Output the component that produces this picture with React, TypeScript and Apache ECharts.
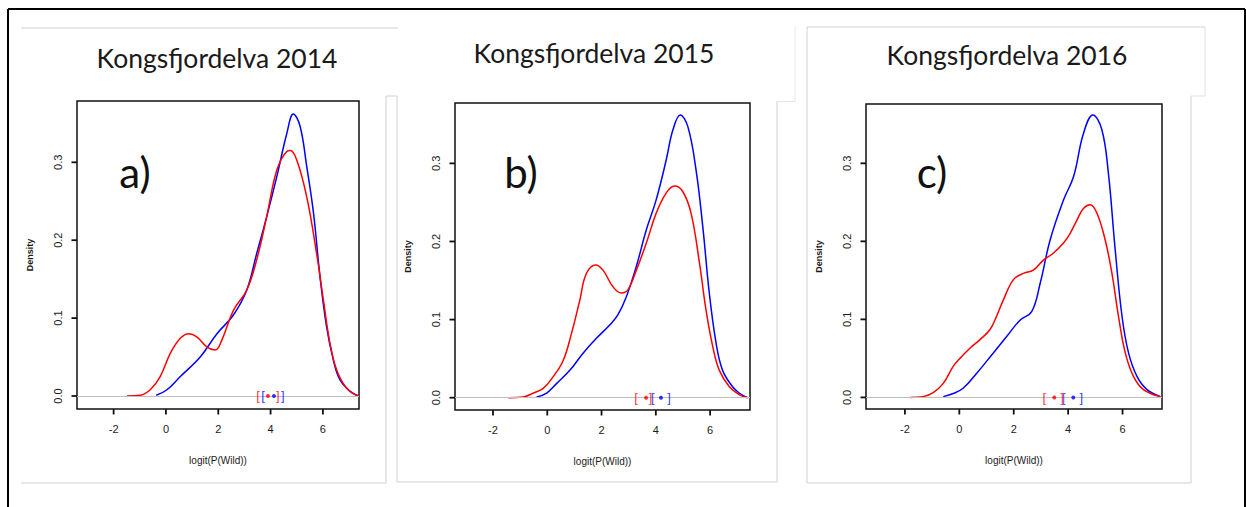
import React, { useEffect, useRef } from "react";
import * as echarts from "echarts";

// ---- data ----
const titles = ["Kongsfjordelva 2014", "Kongsfjordelva 2015", "Kongsfjordelva 2016"];
const panelLetters = ["a)", "b)", "c)"];
const xAxisName = "logit(P(Wild))";
const yAxisName = "Density";
const xTicks = [-2, 0, 2, 4, 6];
const yTicks = [0, 0.1, 0.2, 0.3];

const blueA: [number, number][] = [
  [-0.37, 0.001], [0.04, 0.008], [0.55, 0.025], [1.31, 0.05], [1.95, 0.08], [2.58, 0.104],
  [3.09, 0.136], [3.47, 0.183], [3.85, 0.23], [4.24, 0.282], [4.62, 0.337], [4.87, 0.362],
  [5.13, 0.346], [5.38, 0.295], [5.64, 0.235], [5.89, 0.153], [6.14, 0.089], [6.4, 0.046],
  [6.65, 0.021], [7.04, 0.006], [7.35, 0.0],
];
const redA: [number, number][] = [
  [-1.49, 0], [-0.98, 0.001], [-0.6, 0.008], [-0.22, 0.025], [0.17, 0.055], [0.55, 0.074],
  [0.87, 0.08], [1.18, 0.076], [1.56, 0.063], [1.88, 0.059], [2.14, 0.072], [2.58, 0.11],
  [3.09, 0.136], [3.47, 0.175], [3.85, 0.23], [4.24, 0.29], [4.62, 0.314], [4.75, 0.315],
  [5.0, 0.303], [5.38, 0.256], [5.76, 0.183], [6.02, 0.123], [6.27, 0.068], [6.53, 0.033],
  [6.91, 0.01], [7.35, 0],
];
const blueB: [number, number][] = [
  [-0.39, 0.001], [-0.02, 0.006], [0.34, 0.018], [0.83, 0.035], [1.32, 0.057], [1.81, 0.076],
  [2.3, 0.093], [2.6, 0.106], [2.91, 0.129], [3.28, 0.168], [3.65, 0.215], [4.01, 0.253],
  [4.38, 0.304], [4.63, 0.343], [4.9, 0.362], [5.18, 0.347], [5.48, 0.292], [5.73, 0.219],
  [5.97, 0.134], [6.22, 0.07], [6.46, 0.035], [6.83, 0.014], [7.07, 0.006], [7.38, 0],
];
const redB: [number, number][] = [
  [-1.43, 0], [-0.88, 0.001], [-0.51, 0.006], [-0.15, 0.012], [0.22, 0.027], [0.59, 0.048],
  [0.89, 0.082], [1.2, 0.125], [1.44, 0.159], [1.79, 0.17], [2.06, 0.163], [2.42, 0.142],
  [2.73, 0.134], [2.97, 0.138], [3.28, 0.163], [3.65, 0.198], [4.01, 0.236], [4.38, 0.262],
  [4.69, 0.271], [4.99, 0.264], [5.3, 0.236], [5.61, 0.172], [5.85, 0.112], [6.1, 0.065],
  [6.34, 0.035], [6.71, 0.014], [7.07, 0.004], [7.38, 0],
];
const blueC: [number, number][] = [
  [-0.59, 0.001], [-0.22, 0.005], [0.15, 0.012], [0.64, 0.031], [1.25, 0.057], [1.74, 0.078],
  [2.23, 0.099], [2.66, 0.11], [2.97, 0.146], [3.34, 0.202], [3.83, 0.253], [4.2, 0.283],
  [4.56, 0.338], [4.91, 0.362], [5.24, 0.343], [5.48, 0.287], [5.73, 0.189], [5.98, 0.104],
  [6.22, 0.057], [6.53, 0.027], [6.9, 0.01], [7.39, 0.001],
];
const redC: [number, number][] = [
  [-1.82, 0], [-1.33, 0.001], [-0.96, 0.006], [-0.59, 0.018], [-0.22, 0.04], [0.02, 0.05],
  [0.39, 0.063], [0.76, 0.074], [1.13, 0.087], [1.37, 0.104], [1.62, 0.125], [1.99, 0.151],
  [2.36, 0.159], [2.72, 0.163], [3.09, 0.176], [3.46, 0.185], [3.83, 0.198], [4.07, 0.21],
  [4.32, 0.227], [4.56, 0.242], [4.81, 0.247], [5.06, 0.236], [5.36, 0.202], [5.61, 0.159],
  [5.85, 0.104], [6.1, 0.057], [6.4, 0.027], [6.77, 0.01], [7.39, 0.001],
];
// intervals: [lower, point, upper]
const redIntA = [3.52, 3.9, 4.28];
const blueIntA = [3.71, 4.13, 4.47];
const redIntB = [3.27, 3.64, 3.81];
const blueIntB = [3.89, 4.19, 4.49];
const redIntC = [3.12, 3.49, 3.78];
const blueIntC = [3.84, 4.19, 4.48];

const blues = [blueA, blueB, blueC];
const reds = [redA, redB, redC];
const redInts = [redIntA, redIntB, redIntC];
const blueInts = [blueIntA, blueIntB, blueIntC];

// ---- layout ----
const grids = [
  { left: 77, top: 101, width: 282, height: 308 },
  { left: 455, top: 103, width: 295, height: 307 },
  { left: 866, top: 104, width: 296, height: 305 },
];
const xRanges = [[-3.4, 7.38], [-3.4, 7.47], [-3.43, 7.45]];
const yRanges = [[-0.0167, 0.3787], [-0.01575, 0.3773], [-0.01485, 0.376]];
const titlePos = [[217, 58], [594, 53], [1007, 55]];
const letterPos = [[135, 172], [521, 172], [932, 172]];

const BLUE = "#0000ff";
const RED = "#ff0000";
const FRAME = "#d0d0d0";
const TICK_LEN = 5.5;

const gLine = (x1: number, y1: number, x2: number, y2: number, color: string, w: number) => ({
  type: "line",
  silent: true,
  z: 10,
  shape: { x1, y1, x2, y2 },
  style: { stroke: color, lineWidth: w },
});

function baseGraphics(): any[] {
  const graphic: any[] = [
    // outer black frame
    gLine(8, 9, 1245, 9, "#000", 2),
    gLine(8, 9, 8, 507, "#000", 2),
    gLine(1245, 9, 1245, 507, "#000", 2),
    // panel 1 frame
    gLine(21, 28, 398, 28, FRAME, 1),
    gLine(386, 96, 397, 96, FRAME, 1),
    gLine(386, 96, 386, 483, FRAME, 1),
    gLine(21, 483, 386, 483, FRAME, 1),
    // panel 2 frame
    gLine(397, 96, 397, 482, FRAME, 1),
    gLine(397, 482, 777, 482, FRAME, 1),
    gLine(777, 101.5, 777, 482, FRAME, 1),
    gLine(777, 101.5, 795, 101.5, "#e4e4e4", 1),
    gLine(795, 27, 795, 101.5, "#e8e8e8", 1),
    // panel 3 frame
    gLine(807, 27, 807, 483, FRAME, 1),
    gLine(807, 27, 1205, 27, FRAME, 1),
    gLine(1205, 27, 1205, 96, "#e0e0e0", 1),
    gLine(1191, 96, 1205, 96, "#e0e0e0", 1),
    gLine(1191, 96, 1191, 483, FRAME, 1),
    gLine(807, 483, 1191, 483, FRAME, 1),
  ];
  for (let i = 0; i < 3; i++) {
    graphic.push({
      type: "text",
      x: titlePos[i][0],
      y: titlePos[i][1],
      style: {
        text: titles[i],
        fill: "#1a1a1a",
        font: "26.5px Lato",
        align: "center",
        verticalAlign: "middle",
      },
    });
    graphic.push({
      type: "text",
      x: letterPos[i][0],
      y: letterPos[i][1],
      style: {
        text: panelLetters[i],
        fill: "#111",
        font: "42px Lato",
        align: "center",
        verticalAlign: "middle",
      },
    });
  }
  return graphic;
}

function buildOption() {
  const series: any[] = [];
  const xAxis: any[] = [];
  const yAxis: any[] = [];
  const grid: any[] = [];
  for (let i = 0; i < 3; i++) {
    grid.push({
      ...grids[i],
      show: true,
      borderColor: "#111",
      borderWidth: 1.5,
      backgroundColor: "transparent",
    });
    xAxis.push({
      type: "value",
      gridIndex: i,
      position: "bottom",
      min: xRanges[i][0],
      max: xRanges[i][1],
      axisLine: { show: false, onZero: false },
      splitLine: { show: false },
      axisTick: { show: false },
      axisLabel: {
        show: true,
        customValues: xTicks,
        margin: 14,
        fontFamily: "Liberation Sans",
        fontSize: 11,
        color: "#1a1a1a",
        formatter: (v: number) => String(v),
      },
      name: xAxisName,
      nameLocation: "middle",
      nameGap: 46,
      nameTextStyle: { fontFamily: "Liberation Sans", fontSize: 10, color: "#1a1a1a" },
    });
    yAxis.push({
      type: "value",
      gridIndex: i,
      position: "left",
      min: yRanges[i][0],
      max: yRanges[i][1],
      axisLine: { show: false, onZero: false },
      splitLine: { show: false },
      axisTick: { show: false },
      axisLabel: {
        show: true,
        customValues: yTicks,
        rotate: 90,
        margin: 14,
        fontFamily: "Liberation Sans",
        fontSize: 11,
        color: "#1a1a1a",
        formatter: (v: number) => v.toFixed(1),
      },
      name: yAxisName,
      nameLocation: "middle",
      nameRotate: 90,
      nameGap: 43,
      nameTextStyle: { fontFamily: "Liberation Sans", fontSize: 9, fontWeight: "bold", color: "#1a1a1a" },
    });
    series.push({
      type: "line",
      name: "blue " + titles[i],
      xAxisIndex: i,
      yAxisIndex: i,
      data: blues[i],
      showSymbol: false,
      smooth: 0.4,
      lineStyle: { color: BLUE, width: 1.5 },
      markLine: {
        silent: true,
        symbol: "none",
        label: { show: false },
        lineStyle: { color: "#bebebe", width: 1, type: "solid" },
        data: [{ yAxis: 0 }],
      },
      z: 3,
    });
    series.push({
      type: "line",
      name: "red " + titles[i],
      xAxisIndex: i,
      yAxisIndex: i,
      data: reds[i],
      showSymbol: false,
      smooth: 0.4,
      lineStyle: { color: RED, width: 1.5 },
      z: 4,
    });
    const ints = [
      { vals: blueInts[i], color: BLUE },
      { vals: redInts[i], color: RED },
    ];
    for (const it of ints) {
      series.push({
        type: "scatter",
        xAxisIndex: i,
        yAxisIndex: i,
        data: [[it.vals[0], 0, "["], [it.vals[2], 0, "]"]],
        symbolSize: 1,
        itemStyle: { color: "rgba(0,0,0,0)" },
        label: {
          show: true,
          position: "inside",
          formatter: (p: any) => p.data[2],
          fontFamily: "Liberation Sans",
          fontSize: 13,
          color: it.color,
        },
        z: 5,
      });
      series.push({
        type: "scatter",
        xAxisIndex: i,
        yAxisIndex: i,
        data: [[it.vals[1], 0]],
        symbol: "circle",
        symbolSize: 4,
        itemStyle: { color: it.color },
        z: 5,
      });
    }
  }

  return {
    animation: false,
    backgroundColor: "#fff",
    grid,
    xAxis,
    yAxis,
    series,
    graphic: baseGraphics(),
  };
}

// tick marks placed through the axes' own scales (convertToPixel)
function tickGraphics(chart: any): any[] {
  const out: any[] = [];
  for (let i = 0; i < 3; i++) {
    for (const v of xTicks) {
      const p = chart.convertToPixel({ xAxisIndex: i }, v);
      const base = grids[i].top + grids[i].height;
      if (typeof p === "number" && isFinite(p)) out.push(gLine(p, base, p, base + TICK_LEN, "#111", 1.8));
    }
    for (const v of yTicks) {
      const p = chart.convertToPixel({ yAxisIndex: i }, v);
      const base = grids[i].left;
      if (typeof p === "number" && isFinite(p)) out.push(gLine(base, p, base - TICK_LEN, p, "#111", 1.8));
    }
  }
  return out;
}

export default function App() {
  const ref = useRef<HTMLDivElement>(null);
  useEffect(() => {
    if (!ref.current) return;
    const chart = echarts.init(ref.current, undefined, { renderer: "svg" });
    chart.setOption(buildOption() as any);
    chart.setOption({ graphic: [...baseGraphics(), ...tickGraphics(chart)] } as any);
    return () => chart.dispose();
  }, []);
  return (
    <div
      ref={ref}
      style={{ position: "fixed", left: 0, top: 0, width: 1246, height: 507, background: "#fff" }}
    />
  );
}
